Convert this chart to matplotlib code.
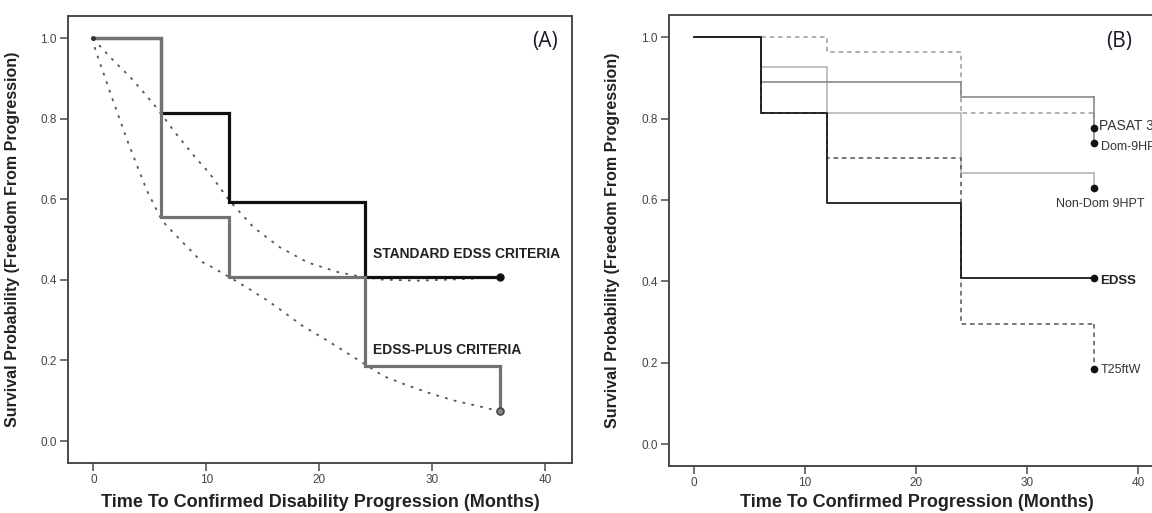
import matplotlib
matplotlib.use("Agg")
import matplotlib.pyplot as plt

plt.rcParams['font.family'] = ['Liberation Sans', 'DejaVu Sans']

# ---- Panel A: Kaplan-Meier steps for the two progression criteria ----
months = [0, 6, 12, 24, 36]
std_edss = [1.0, 0.815, 0.593, 0.407, 0.407]
edss_plus = [1.0, 0.556, 0.407, 0.185, 0.185]
edss_plus_end = 0.074

# fitted trend curves (dotted)
fit_std_x = [0, 0.6, 1.9, 3.25, 4.5, 5.7, 7.2, 9.0, 10.3, 12.0, 14.2, 16.5,
             19.0, 21.7, 23.5, 25.5, 28.6, 31.7, 33.5, 35.0, 36.0]
fit_std_y = [1.0, 0.980, 0.941, 0.904, 0.864, 0.824, 0.767, 0.705, 0.664, 0.598,
             0.530, 0.481, 0.443, 0.419, 0.409, 0.401, 0.398, 0.401, 0.403, 0.406, 0.407]
fit_plus_x = [0, 0.15, 1.63, 3.1, 4.72, 5.9, 6.43, 9.59, 10.48, 12.1, 13.7, 15.35,
              16.96, 18.4, 20.9, 23.45, 25.7, 27.7, 29.95, 32.0, 33.0, 36.0]
fit_plus_y = [1.0, 0.974, 0.854, 0.739, 0.623, 0.557, 0.536, 0.445, 0.432, 0.406,
              0.379, 0.350, 0.318, 0.288, 0.246, 0.201, 0.161, 0.139, 0.117, 0.100,
              0.0935, 0.074]

# ---- Panel B: individual components ----
b_edss = [1.0, 0.815, 0.593, 0.407, 0.407]
b_t25fw = [1.0, 0.815, 0.704, 0.296, 0.296]
b_pasat = [1.0, 1.0, 0.963, 0.815, 0.815]
b_dom9 = [1.0, 0.889, 0.889, 0.852, 0.852]
b_nondom9 = [1.0, 0.926, 0.815, 0.667, 0.667]
b_ends = {'EDSS': 0.407, 'T25FW': 0.185, 'PASAT': 0.778, 'DOM': 0.741, 'NONDOM': 0.630}

xticks = [0, 10, 20, 30, 40]
yticks = [0.0, 0.2, 0.4, 0.6, 0.8, 1.0]
ytick_labels = ['0.0', '0.2', '0.4', '0.6', '0.8', '1.0']

W, H = 1152, 513
fig = plt.figure(figsize=(W / 100, H / 100), dpi=100)

axA = fig.add_axes([67.8 / W, 1 - 463 / H, (572.2 - 67.8) / W, (463 - 15.7) / H])
axB = fig.add_axes([668.7 / W, 1 - 466 / H, (1164.8 - 668.7) / W, (466 - 15.3) / H])

frame_col = '#4a4a4a'
tick_col = '#444444'


def style_axes(ax, ylim, xlim):
    ax.set_xlim(*xlim)
    ax.set_ylim(*ylim)
    ax.set_xticks(xticks)
    ax.set_xticklabels([str(t) for t in xticks])
    ax.set_yticks(yticks)
    ax.set_yticklabels(ytick_labels)
    for s in ax.spines.values():
        s.set_color(frame_col)
        s.set_linewidth(1.4)
    ax.tick_params(direction='out', length=5.5, width=1.1, color=frame_col,
                   labelsize=8.5, labelcolor=tick_col, pad=2.5)


def step(ax, ys, **kw):
    ax.step(months, ys, where='post', **kw)


# Panel A
style_axes(axA, (-0.0546, 1.056), (-2.26, 42.38))
axA.plot(fit_std_x, fit_std_y, color='#555555', lw=1.3, ls=(0, (1.5, 3.5)))
axA.plot(fit_plus_x, fit_plus_y, color='#555555', lw=1.3, ls=(0, (1.5, 3.5)))
step(axA, std_edss, color='#111111', lw=2.3, solid_joinstyle='miter')
step(axA, edss_plus, color='#727272', lw=2.3, solid_joinstyle='miter')
axA.plot([36, 36], [edss_plus[-1], edss_plus_end], color='#727272', lw=2.3)
axA.plot([36], [std_edss[-1]], 'o', color='#111111', ms=5)
axA.plot([36], [edss_plus_end], 'o', mfc='#888888', mec='#444444', ms=5, mew=1.2)
axA.plot([0], [1.0], 'o', color='#333333', ms=2.5)
axA.text(24.75, 0.464, 'STANDARD EDSS CRITERIA', fontsize=10, fontweight='bold',
         color='#222222', va='center', ha='left')
axA.text(24.75, 0.226, 'EDSS-PLUS CRITERIA', fontsize=10, fontweight='bold',
         color='#222222', va='center', ha='left')
axA.text(40.0, 0.993, '(A)', fontsize=15, family=['Open Sans', 'DejaVu Sans'],
         color='#1a1a2a', ha='center', va='center')
axA.set_ylabel('Survival Probability (Freedom From Progression)', fontsize=11.5,
               fontweight='bold', color='#222222')
axA.yaxis.set_label_coords(-0.095, 0.5)
axA.set_xlabel('Time To Confirmed Disability Progression (Months)', fontsize=13,
               fontweight='bold', color='#222222', va='center')
axA.xaxis.set_label_coords(0.5, -0.089)

# Panel B
style_axes(axB, (-0.054, 1.054), (-2.27, 42.38))
dash = (0, (3, 2.5))
step(axB, b_nondom9, color='#b5b5b5', lw=1.2)
axB.plot([36, 36], [b_nondom9[-1], b_ends['NONDOM']], color='#b5b5b5', lw=1.2)
step(axB, b_pasat, color='#9a9a9a', lw=1.1, ls=dash)
axB.plot([36, 36], [b_pasat[-1], b_ends['PASAT']], color='#9a9a9a', lw=1.1, ls=dash)
step(axB, b_dom9, color='#8a8a8a', lw=1.2)
axB.plot([36, 36], [b_dom9[-1], b_ends['DOM']], color='#8a8a8a', lw=1.2)
step(axB, b_t25fw, color='#555555', lw=1.1, ls=dash)
axB.plot([36, 36], [b_t25fw[-1], b_ends['T25FW']], color='#555555', lw=1.1, ls=dash)
step(axB, b_edss, color='#1a1a1a', lw=1.3)
for k in ['EDSS', 'T25FW', 'PASAT', 'DOM', 'NONDOM']:
    axB.plot([36], [b_ends[k]], 'o', color='#111111', ms=4.5)

lab_kw = dict(fontsize=9, color='#333333', va='center', ha='left', clip_on=False)
axB.text(36.5, b_ends['PASAT'] + 0.004, 'PASAT 3', fontsize=10, color='#333333',
         va='center', ha='left', clip_on=False)
axB.text(36.6, b_ends['DOM'] - 0.012, 'Dom-9HPT', **lab_kw)
axB.text(36.6, b_ends['EDSS'] - 0.006, 'EDSS', fontweight='bold', fontsize=9.5,
         color='#222222', va='center', ha='left', clip_on=False)
axB.text(36.6, b_ends['T25FW'] - 0.004, 'T25ftW', **lab_kw)
axB.text(36.55, b_ends['NONDOM'] - 0.04, 'Non-Dom 9HPT', fontsize=9, color='#333333',
         va='center', ha='center', clip_on=False)
axB.text(38.3, 0.99, '(B)', fontsize=15, family=['Open Sans', 'DejaVu Sans'],
         color='#1a1a2a', ha='center', va='center')
axB.set_ylabel('Survival Probability (Freedom From Progression)', fontsize=11.5,
               fontweight='bold', color='#222222')
axB.yaxis.set_label_coords(-0.098, 0.5)
axB.set_xlabel('Time To Confirmed Progression (Months)', fontsize=13,
               fontweight='bold', color='#222222', va='center')
axB.xaxis.set_label_coords(0.5, -0.082)

fig.savefig('out.png', dpi=100)
